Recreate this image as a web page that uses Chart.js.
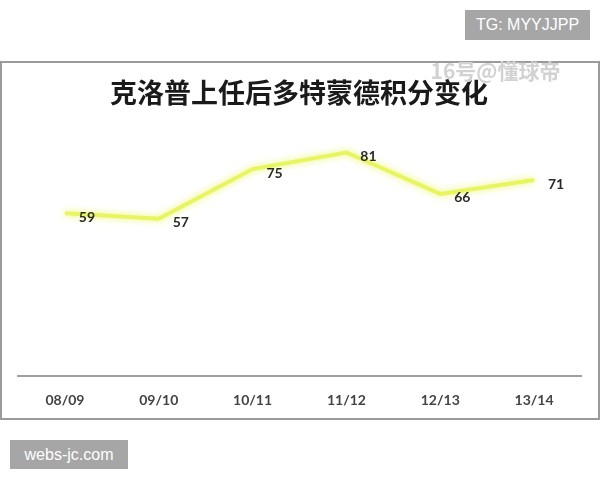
<!DOCTYPE html>
<html>
<head>
<meta charset="utf-8">
<script src="https://cdn.jsdelivr.net/npm/chart.js@4"></script>
<style>
  html, body { margin: 0; padding: 0; background: #fff; }
  body { width: 600px; height: 480px; position: relative; overflow: hidden; }
  #frame { position: absolute; left: 0; top: 61px; width: 596px; height: 355px; border: 2px solid #9a9a9a; }
  #wrap { position: absolute; left: 0; top: 0; width: 600px; height: 480px; }
  .tag { position: absolute; background: #a6a6a6; color: #fff; font-family: "Liberation Sans", Arial, sans-serif; font-size: 16px; display: flex; align-items: center; justify-content: center; }
  #wm { position: absolute; left: 423px; top: 57px; width: 145px; text-align: center; color: #d2d2d2; font-family: "Noto Sans CJK SC", sans-serif; font-weight: bold; font-size: 21px; line-height: 26px; }
</style>
</head>
<body>
<div id="frame"></div>
<div id="wrap"><canvas id="c" width="600" height="480"></canvas></div>
<div id="wm">16号@懂球帝</div>
<div class="tag" style="left:465px;top:10px;width:125px;height:30px;">TG: MYYJJPP</div>
<div class="tag" style="left:10px;top:440px;width:118px;height:29px;">webs-jc.com</div>
<script>
const chartTitle = "克洛普上任后多特蒙德积分变化";
const seasons = ["08/09", "09/10", "10/11", "11/12", "12/13", "13/14"];
const points = [59, 57, 75, 81, 66, 71];

const extras = {
  id: 'extras',
  beforeDatasetsDraw(chart) {
    const ctx = chart.ctx;
    ctx.save();
    ctx.shadowColor = 'rgba(230,245,90,0.9)';
    ctx.shadowBlur = 7;
  },
  afterDatasetsDraw(chart) {
    const ctx = chart.ctx;
    ctx.restore();
    const meta = chart.getDatasetMeta(0);
    ctx.save();
    ctx.fillStyle = '#2a2a2a';
    ctx.font = 'bold 14px Lato, "Liberation Sans", sans-serif';
    ctx.textAlign = 'center';
    ctx.textBaseline = 'middle';
    meta.data.forEach((pt, i) => {
      ctx.fillText(String(points[i]), pt.x + 22, pt.y + 4);
    });
    ctx.restore();
  },
  afterDraw(chart) {
    const ctx = chart.ctx;
    ctx.save();
    ctx.fillStyle = '#1a1a1a';
    ctx.font = 'bold 27px "Noto Sans CJK SC", sans-serif';
    ctx.textAlign = 'center';
    ctx.textBaseline = 'middle';
    ctx.fillText(chartTitle, 299, 93);
    ctx.restore();
  }
};

new Chart(document.getElementById('c'), {
  type: 'line',
  data: {
    labels: seasons,
    datasets: [{
      data: points,
      borderColor: '#e9f55c',
      borderWidth: 4,
      pointRadius: 0,
      tension: 0,
      fill: false
    }]
  },
  options: {
    responsive: false,
    animation: false,
    layout: { padding: { left: 18, right: 19, top: 100, bottom: 55 } },
    plugins: { legend: { display: false }, tooltip: { enabled: false }, title: { display: false } },
    scales: {
      x: {
        offset: true,
        grid: { display: false, drawTicks: false },
        border: { display: true, color: '#a0a0a0', width: 2 },
        ticks: { color: '#444', padding: 16, font: { family: 'Lato, "Liberation Sans", sans-serif', size: 14, weight: 'bold' } }
      },
      y: {
        display: false,
        min: 0,
        max: 100
      }
    }
  },
  plugins: [extras]
});
</script>
</body>
</html>
